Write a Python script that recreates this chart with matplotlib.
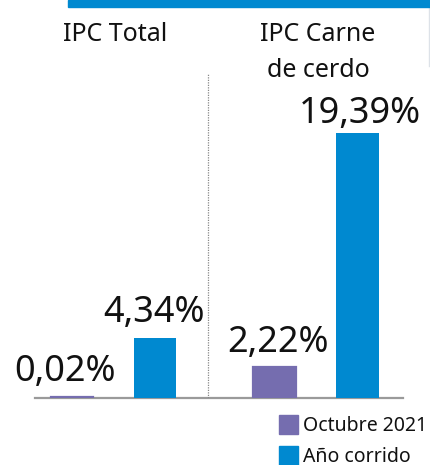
import matplotlib
matplotlib.use("Agg")
import matplotlib.pyplot as plt
from matplotlib.patches import Rectangle
from matplotlib.lines import Line2D
import matplotlib.transforms as mtransforms
import numpy as np

plt.rcParams['font.family'] = ['Noto Sans', 'DejaVu Sans']

categories = ["IPC Total", "IPC Carne\nde cerdo"]
series_names = ["Octubre 2021", "Año corrido"]
octubre = [0.02, 2.22]
anio_corrido = [4.34, 19.39]

PURPLE = '#756daf'
BLUE = '#0089d0'

W, H = 430, 465
fig = plt.figure(figsize=(W / 100, H / 100), dpi=100)

def fx(px):
    return px / W

def fy(py):
    return (H - py) / H

ax = fig.add_axes([fx(35), fy(397.5), fx(403) - fx(35), fy(8) - fy(397.5)])
ax.set_xlim(-0.388, 1.43)
ax.set_ylim(0, 28.56)

x = np.arange(len(categories))
bw = 0.212
off = 0.205
b1 = ax.bar(x - off, octubre, bw, color=PURPLE, edgecolor=PURPLE, linewidth=1.6)
b2 = ax.bar(x + off, anio_corrido, bw, color=BLUE)

def fmt(v):
    return f"{v:.2f}%".replace('.', ',')

# label offsets in points (dx, dy), keyed by (category, series)
lab_off = {(0, 0): (-5, 5.5), (1, 0): (2.5, 4.5), (0, 1): (-1, 5.5), (1, 1): (2, 1)}
for si, bars in enumerate([b1, b2]):
    for ci, rect in enumerate(bars):
        dx, dy = lab_off[(ci, si)]
        ax.annotate(fmt(rect.get_height()),
                    (rect.get_x() + rect.get_width() / 2, rect.get_height()),
                    xytext=(dx, dy), textcoords='offset points',
                    ha='center', va='bottom', fontsize=26, color='#111111')

for s in ['top', 'right', 'left']:
    ax.spines[s].set_visible(False)
ax.spines['bottom'].set_color('#9a9a9a')
ax.spines['bottom'].set_linewidth(1.6)
ax.spines['bottom'].set_zorder(0.5)
ax.set_xticks([])
ax.set_yticks([])

# dotted separator
ax.axvline(0.467, ymin=0, ymax=(397.5 - 74) / 389.5, color='#888888',
           linestyle=(0, (1, 1)), linewidth=0.9)

# category titles
trans = mtransforms.blended_transform_factory(ax.transData, fig.transFigure)
for ci, cat in enumerate(categories):
    for li, line in enumerate(cat.split('\n')):
        ax.text(x[ci] + 0.01, fy(41 + 36 * li), line, transform=trans,
                ha='center', va='baseline', fontsize=18, color='#111111')

# header bar
fig.patches.append(Rectangle((fx(68), fy(7)), 1 - fx(68), 7 / H,
                             transform=fig.transFigure, color=BLUE, zorder=5))
fig.lines.append(Line2D([fx(429), fx(429)], [fy(8), fy(66)],
                        transform=fig.transFigure, color='#dde2e8', lw=1))

# legend
for i, (name, col) in enumerate(zip(series_names, [PURPLE, BLUE])):
    top = 415 + i * 31
    fig.patches.append(Rectangle((fx(279), fy(top + 19)), 19 / W, 19 / H,
                                 transform=fig.transFigure, color=col))
    fig.text(fx(303), fy(top + 16), name, ha='left', va='baseline',
             fontsize=14, color='#111111')

fig.savefig('out.png', dpi=100)
